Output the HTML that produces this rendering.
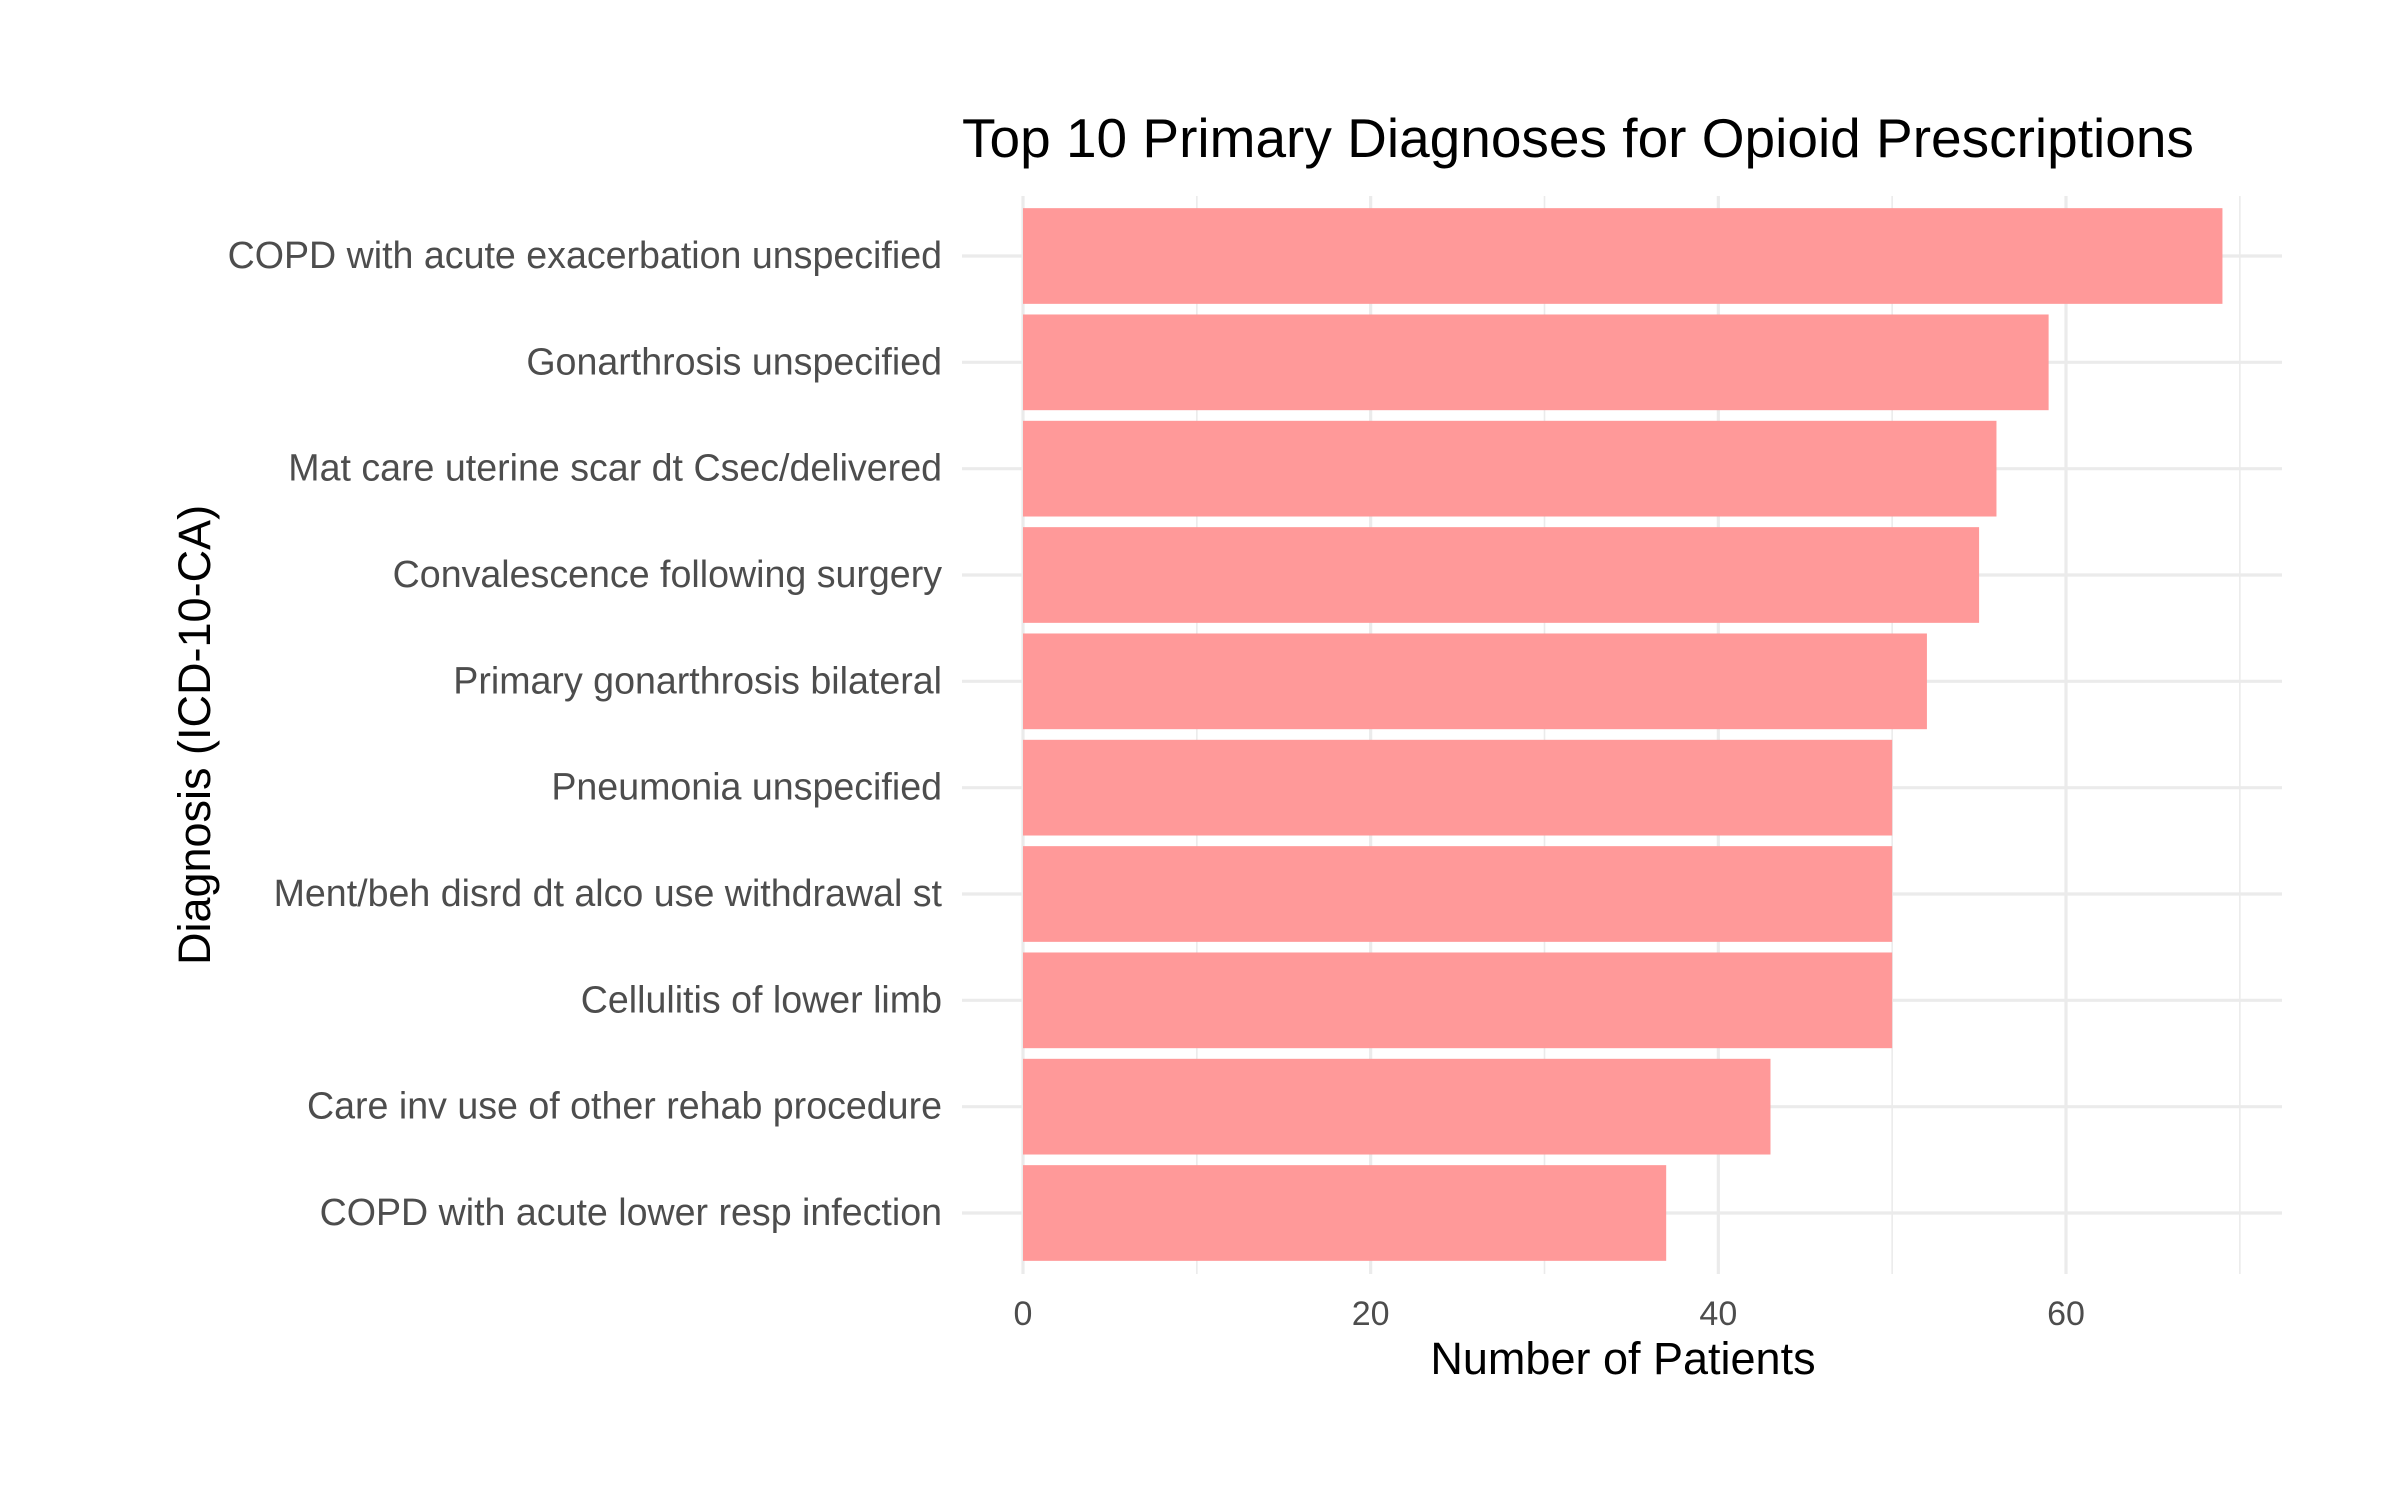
<!DOCTYPE html>
<html><head><meta charset="utf-8"><style>
html,body{margin:0;padding:0;background:#fff;}
svg{display:block;font-family:"Liberation Sans",Arial,sans-serif;}
</style></head><body>
<svg id="chart" width="2400" height="1500" viewBox="0 0 2400 1500">
<g id="grid"></g>
<g id="bars"></g>
<g id="ylabels"></g>
<g id="xlabels"></g>
<text x="962" y="157" font-size="55" fill="#000">Top 10 Primary Diagnoses for Opioid Prescriptions</text>
<text x="1623" y="1374" font-size="45" fill="#000" text-anchor="middle">Number of Patients</text>
<text x="0" y="0" font-size="45" fill="#000" text-anchor="middle" transform="translate(210,735) rotate(-90)">Diagnosis (ICD-10-CA)</text>
</svg>
<script>
const categories = ["COPD with acute exacerbation unspecified","Gonarthrosis unspecified","Mat care uterine scar dt Csec/delivered","Convalescence following surgery","Primary gonarthrosis bilateral","Pneumonia unspecified","Ment/beh disrd dt alco use withdrawal st","Cellulitis of lower limb","Care inv use of other rehab procedure","COPD with acute lower resp infection"];
const values = [69, 59, 56, 55, 52, 50, 50, 50, 43, 37];
const xTicks = [0, 20, 40, 60];
const xMinor = [10, 30, 50, 70];

const NS = "http://www.w3.org/2000/svg";
const panelL = 962, panelR = 2282, panelT = 196, panelB = 1274;
const x0 = 1023, pxPerUnit = (2066 - 1023) / 60;
const xs = v => x0 + v * pxPerUnit;
const step = (1213 - 256) / (categories.length - 1);
const yc = i => 256 + i * step;
const barH = step * 0.9;
function mk(tag, attrs, parent){ const e=document.createElementNS(NS,tag); for(const k in attrs) e.setAttribute(k,attrs[k]); parent.appendChild(e); return e; }
const grid=document.getElementById('grid'), bars=document.getElementById('bars'), yl=document.getElementById('ylabels'), xl=document.getElementById('xlabels');
xMinor.forEach(v=>{
  const l=mk('line',{x1:xs(v),x2:xs(v),y1:panelT,y2:panelB,stroke:'#ebebeb','stroke-width':1.6},grid);
  
  
});
xTicks.forEach(v=>{
  const l=mk('line',{x1:xs(v),x2:xs(v),y1:panelT,y2:panelB,stroke:'#ebebeb','stroke-width':3.2},grid);
  
  
  const t=mk('text',{x:xs(v),y:1325,'font-size':34,fill:'#4d4d4d','text-anchor':'middle'},xl);
  t.textContent=v;
  
  
});
categories.forEach((c,i)=>{
  const l=mk('line',{x1:panelL,x2:panelR,y1:yc(i),y2:yc(i),stroke:'#ebebeb','stroke-width':3.2},grid);
  
  
  const r=mk('rect',{x:xs(0),y:yc(i)-barH/2,width:xs(values[i])-xs(0),height:barH,fill:'#ff9999'},bars);
  
  
  const t=mk('text',{x:942,y:yc(i)+12,'font-size':37.6,fill:'#4d4d4d','text-anchor':'end'},yl);
  t.textContent=c;
  
  
});
</script>
</body></html>
